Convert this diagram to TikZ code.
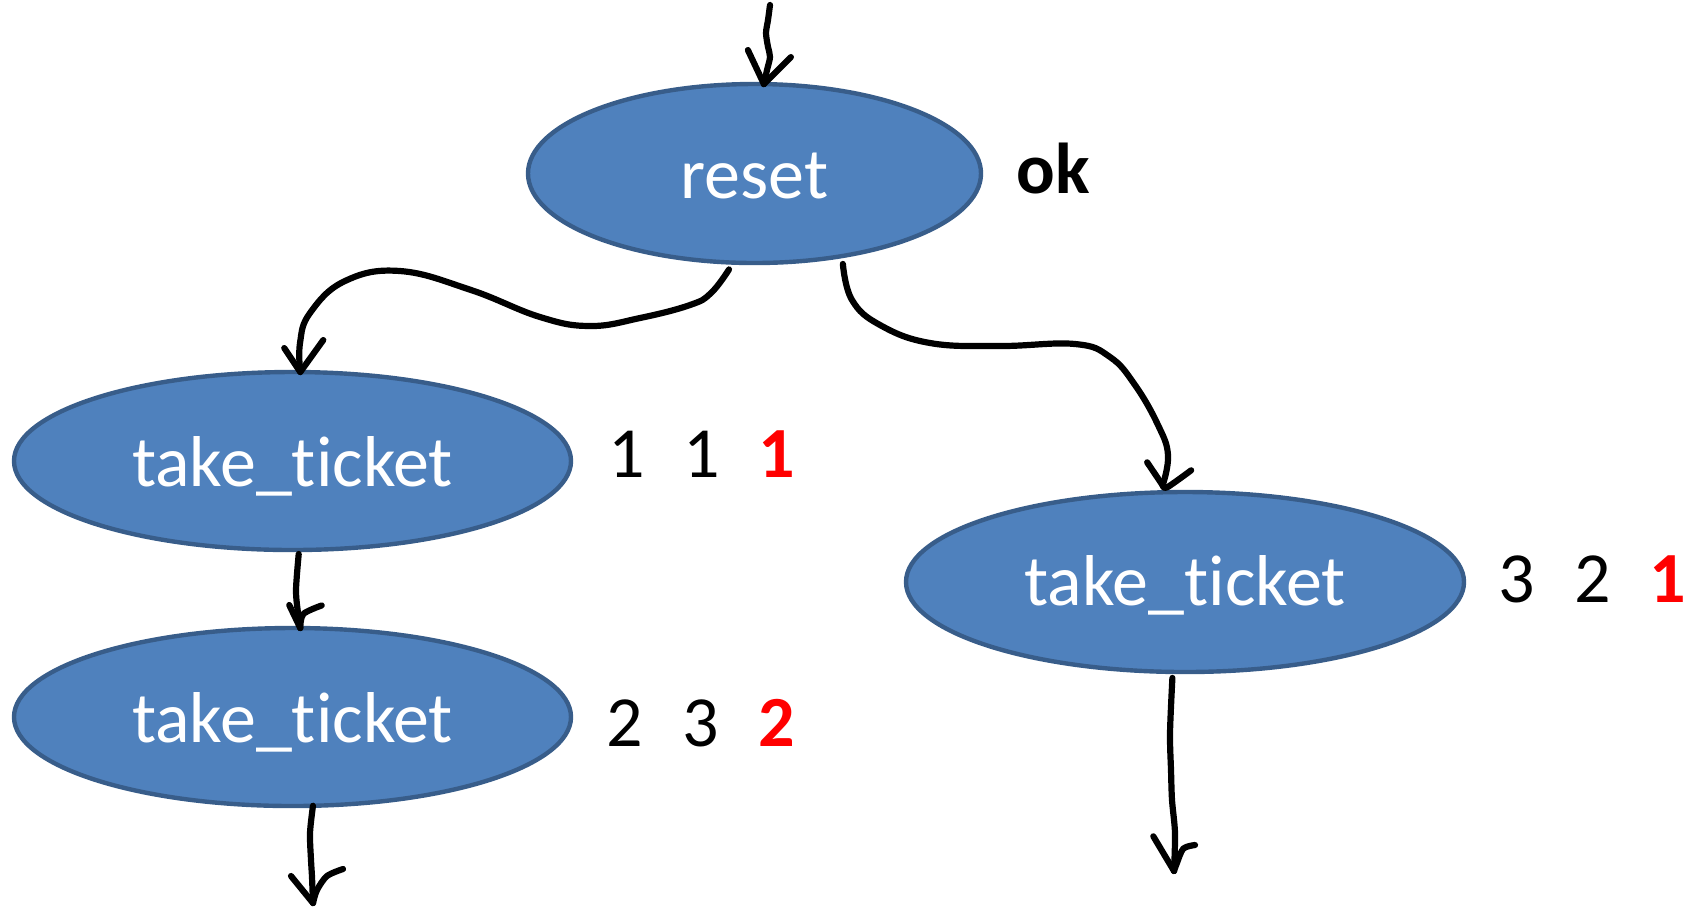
\documentclass[tikz,border=0pt]{standalone}
\usepackage{fontspec}
\setmainfont[Ligatures=NoCommon]{Carlito}
\usetikzlibrary{shapes.geometric}
\definecolor{nodefill}{HTML}{4F81BD}
\definecolor{nodeline}{HTML}{385D8A}
\definecolor{redval}{HTML}{FF0000}
\tikzset{
  state/.style={ellipse, draw=nodeline, line width=2.2pt, fill=nodefill, text=white,
    font=\fontsize{36}{43}\selectfont, inner sep=0pt, outer sep=0pt,
    text height=25pt, text depth=0pt},
  val/.style={anchor=base, font=\fontsize{36}{43}\selectfont, inner sep=0pt},
  hot/.style={anchor=base, text=redval, font=\fontsize{36}{43}\selectfont\bfseries, inner sep=0pt},
  conn/.style={line width=3.1pt, line cap=round, line join=round, black},
}
\begin{document}
\begin{tikzpicture}[x=0.5pt,y=-0.5pt]
\path[use as bounding box] (0,0) rectangle (1695,907);

% states
\node[state, minimum width=226.5pt, minimum height=89.5pt] (reset) at (754.5,173.5) {reset};
\node[state, minimum width=278.5pt, minimum height=89pt] (take1) at (292.5,461) {take\_ticket};
\node[state, minimum width=278.5pt, minimum height=89pt] (take2) at (292.5,717) {take\_ticket};
\node[state, minimum width=279pt, minimum height=90pt, text height=23.5pt] (take3) at (1185,582) {take\_ticket};

% labels
\node[val, font=\fontsize{36}{43}\selectfont\bfseries] (ok) at (1053.5,193) {ok};
\node[val] (n11) at (627,477) {1};
\node[val] (n12) at (702,477) {1};
\node[hot] (n13) at (777,477) {1};
\node[val] (n21) at (625,746) {2};
\node[val] (n22) at (701,746) {3};
\node[hot] (n23) at (777,746) {2};
\node[val] (n31) at (1517,602) {3};
\node[val] (n32) at (1593,602) {2};
\node[hot] (n33) at (1668,602) {1};

% free ends
\coordinate (in0) at (770,5);
\coordinate (out1) at (313,903);
\coordinate (out2) at (1174,871);

% A: into reset
\draw[conn] plot[smooth] coordinates {(in0) (768,20) (766,33) (768,47) (770,57) (767,70) (reset.84)};
\draw[conn] plot[smooth] coordinates {([shift={(-16,-34)}]reset.84) (reset.84)};
\draw[conn] plot[smooth] coordinates {([shift={(27,-27)}]reset.84) ([shift={(12,-12)}]reset.84) (reset.84)};

% B: reset -> take1
\draw[conn] plot[smooth, tension=0.7] coordinates {([yshift=-3.5pt]reset.254) (711,293) (690,305) (640,318) (590,326) (540,317) (471,290) (400,271) (345,281) (310,313) (300,343) (take1.85)};
\draw[conn] ([shift={(-16,-24)}]take1.85) -- (take1.85) -- ([shift={(23,-32)}]take1.85);

% C: reset -> take3
\draw[conn] plot[smooth, tension=0.7] coordinates {([yshift=-4pt]reset.317) (852,300) (880,325) (930,343) (1000,346) (1075,344) (1110,357) (1135,385) (1158,425) (1168,455) ([yshift=3.5pt]take3.104)};
\draw[conn] ([shift={(-15.5,-30)}]take3.104) -- ([yshift=3.5pt]take3.104);
\draw[conn] plot[smooth] coordinates {([shift={(28.5,-22)}]take3.104) ([shift={(4.5,-5)}]take3.104) ([yshift=3.5pt]take3.104)};

% D: take1 -> take2
\draw[conn] plot[smooth] coordinates {([yshift=-2pt]take1.274) (296,590) (298,613) (take2.85)};
\draw[conn] ([shift={(-11,-23)}]take2.85) -- (take2.85);
\draw[conn] plot[smooth] coordinates {([shift={(21.4,-22.6)}]take2.85) ([shift={(3,-14)}]take2.85) (take2.85)};

% E: take2 -> out
\draw[conn] plot[smooth] coordinates {(take2.283) (310,833) (311,860) (312,877) (out1)};
\draw[conn] ([shift={(-22,-27)}]out1) -- (out1);
\draw[conn] plot[smooth] coordinates {([shift={(30,-34)}]out1) ([shift={(14,-27)}]out1) ([shift={(4,-13)}]out1) (out1)};

% F: take3 -> out
\draw[conn] plot[smooth] coordinates {([yshift=-3pt]take3.262) (1170,733) (1171,770) (1172,800) (1175,833) (out2)};
\draw[conn] ([shift={(-20.7,-34.7)}]out2) -- (out2);
\draw[conn] plot[smooth] coordinates {([shift={(21,-26)}]out2) ([shift={(9.3,-22.4)}]out2) ([shift={(2.7,-7.4)}]out2) (out2)};
\end{tikzpicture}
\end{document}
